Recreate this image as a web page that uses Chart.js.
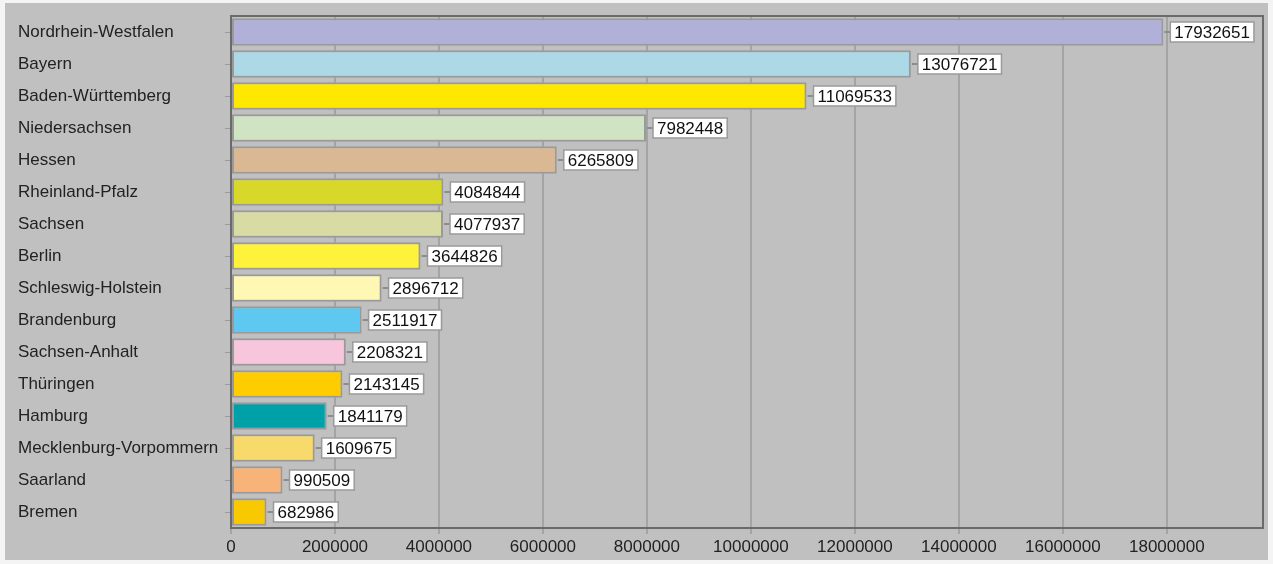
<!DOCTYPE html>
<html><head><meta charset="utf-8">
<script src="https://cdn.jsdelivr.net/npm/chart.js@4/dist/chart.umd.min.js"></script>
<style>
html,body{margin:0;padding:0;background:#f4f4f4;}
#wrap{position:absolute;left:5px;top:3px;width:1263px;height:557px;background:#c0c0c0;}
</style></head><body>
<div id="wrap"><canvas id="c" width="1263" height="557"></canvas></div>
<script>
const categories = ["Nordrhein-Westfalen","Bayern","Baden-Württemberg","Niedersachsen","Hessen","Rheinland-Pfalz","Sachsen","Berlin","Schleswig-Holstein","Brandenburg","Sachsen-Anhalt","Thüringen","Hamburg","Mecklenburg-Vorpommern","Saarland","Bremen"];
const population = [17932651,13076721,11069533,7982448,6265809,4084844,4077937,3644826,2896712,2511917,2208321,2143145,1841179,1609675,990509,682986];
const barColors = ["#b0b0d8","#add8e6","#ffe800","#d0e4c4","#dbb894","#d8d82a","#d8dca4","#fff23a","#fff7b4","#5ec8f0","#f7c6dc","#ffcc00","#00a0a8","#f8da6c","#f8b478","#f8c800"];
const xTicks = [0,2000000,4000000,6000000,8000000,10000000,12000000,14000000,16000000,18000000];

const FONT = "17px 'Liberation Sans', Arial, sans-serif";

const valueLabels = {
  id:'valueLabels',
  afterDatasetsDraw(chart){
    const ctx = chart.ctx;
    const meta = chart.getDatasetMeta(0);
    ctx.save();
    ctx.font = FONT;
    ctx.textBaseline = 'middle';
    meta.data.forEach((bar,i)=>{
      const txt = String(population[i]);
      const x0 = bar.x + 1, y = bar.y;
      ctx.strokeStyle = '#8c8c8c'; ctx.lineWidth = 2;
      ctx.beginPath(); ctx.moveTo(x0, y); ctx.lineTo(x0+6, y); ctx.stroke();
      const w = ctx.measureText(txt).width + 8;
      const bx = x0+6, by = y-10;
      ctx.fillStyle = '#ffffff';
      ctx.fillRect(bx, by, w, 20);
      ctx.strokeStyle = '#9a9a9a'; ctx.lineWidth = 1.5;
      ctx.strokeRect(bx, by, w, 20);
      ctx.fillStyle = '#111';
      ctx.fillText(txt, bx+4, y+1);
    });
    ctx.restore();
  }
};
const frame = {
  id:'frame',
  afterDraw(chart){
    const a = chart.chartArea, ctx = chart.ctx;
    ctx.save();
    ctx.strokeStyle = '#6a6a6a'; ctx.lineWidth = 2;
    ctx.strokeRect(a.left, a.top, a.right-a.left, a.bottom-a.top);
    ctx.restore();
  }
};

new Chart(document.getElementById('c'), {
  type:'bar',
  data:{ labels:categories, datasets:[{ data:population, backgroundColor:barColors, borderColor:'#9a9a9a', borderWidth:2, borderSkipped:false, barPercentage:0.86, categoryPercentage:1.0 }]},
  options:{
    indexAxis:'y', responsive:false, animation:false,
    layout:{ padding:{ left:13, top:13, right:5, bottom:0 } },
    plugins:{ legend:{display:false}, tooltip:{enabled:false} },
    scales:{
      x:{ min:0, max:19850000,
        afterFit(s){ s.height = 32; },
        afterBuildTicks(s){ s.ticks = xTicks.map(v=>({value:v})); },
        border:{ display:false },
        grid:{ color:'#a4a4a4', lineWidth:2, drawTicks:true, tickLength:6, tickColor:'#a4a4a4' },
        ticks:{ color:'#222', font:{ family:"'Liberation Sans', Arial, sans-serif", size:17 }, padding:3, autoSkip:false, maxRotation:0, callback:(v)=>String(v) }
      },
      y:{
        afterFit(s){ s.width = 213; },
        border:{ display:false },
        grid:{ drawOnChartArea:false, offset:false, drawTicks:true, tickLength:6, tickColor:'#9a9a9a', lineWidth:1 },
        ticks:{ crossAlign:'far', color:'#222', font:{ family:"'Liberation Sans', Arial, sans-serif", size:17 }, padding:2, autoSkip:false }
      }
    }
  },
  plugins:[valueLabels, frame]
});
</script>
</body></html>
